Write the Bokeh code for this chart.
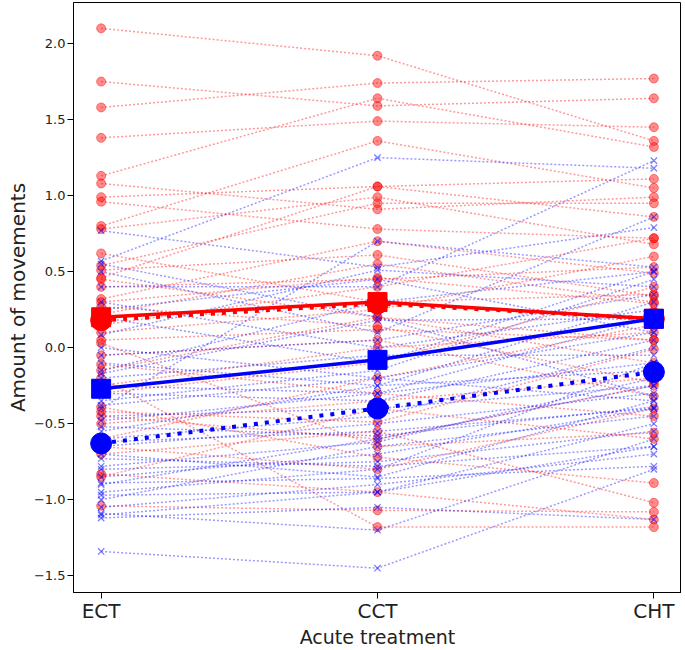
from bokeh.plotting import figure
from bokeh.models import Range1d, FixedTicker
from bokeh.embed import file_html
from bokeh.resources import INLINE

categories = ["ECT", "CCT", "CHT"]
y_ticks = [-1.5, -1.0, -0.5, 0.0, 0.5, 1.0, 1.5, 2.0]

# individual subjects, red group (values at ECT, CCT, CHT)
red_ect = [2.10, 1.75, 1.58, 1.38, 1.13, 1.08, 0.99, 0.96, 0.80, 0.78, 0.54, 0.51,
           0.46, 0.40, 0.32, 0.27, 0.30, 0.05, 0.03, -0.05, -0.11, -0.39, -0.42, -0.83,
           -1.04, -0.20, 0.62, -0.60, 0.15, -0.30, -0.70, 0.10, -0.15, -0.50,
           0.22, -0.25, -0.45, -0.85, 0.45, -0.65]
red_cct = [1.92, 1.59, 1.74, 1.49, 1.64, 0.91, 1.06, 0.78, 1.36, 0.99, 0.95, 0.61,
           1.06, 0.45, 0.70, 0.14, 0.46, 0.12, -0.65, 0.05, -0.30, -0.72, -0.49, -0.95,
           -1.07, -1.18, 0.30, -0.20, 0.40, -0.10, -0.55, 0.25, 0.20, -0.35,
           0.55, 0.00, -0.60, -0.40, 0.20, -0.80]
red_cht = [1.36, 1.64, 1.77, 1.45, 1.32, 0.99, 1.11, 0.72, 1.05, 0.68, 0.95, 0.34,
           0.86, 0.53, 0.49, -0.23, 0.29, 0.05, -0.56, -0.32, -0.45, -0.89, -0.01, -1.13,
           -1.08, -1.18, 0.35, 0.15, 0.72, 0.40, -1.02, 0.60, -0.10, -0.20,
           0.30, 0.10, -0.25, -0.60, 0.05, -0.40]

# individual subjects, blue group
blue_ect = [0.77, 0.57, 0.40, 0.085, -0.17, -0.52, -0.73, -0.89, -0.97, -1.09, -1.12,
            -1.34, 0.50, 0.20, 0.00, -0.10, -0.25, -0.35, -0.45, -0.60, -0.65, -0.78,
            -0.85, -0.95, -1.00, -1.05, 0.30, -0.30, -0.55, -0.70, -0.40, 0.55,
            0.25, -0.05, -0.20, -0.48, -0.62, -0.80, -0.90, -1.10, -0.15, -0.38]
blue_cct = [0.53, 1.25, 0.40, 0.51, 0.18, -0.58, -0.78, -0.86, -0.95, -1.20, -1.05,
            -1.45, 0.10, -0.10, -0.20, -0.25, -0.30, -0.15, -0.40, -0.45, -0.50, -0.62,
            -0.70, -0.80, -0.65, -0.90, 0.00, -0.35, -0.25, -0.85, 0.70, 0.20,
            0.45, 0.05, -0.05, -0.30, -0.55, -0.75, -0.60, -0.95, 0.30, -0.20]
blue_cht = [0.79, 1.18, 1.23, 0.40, 0.19, -0.39, -0.65, -0.78, -0.50, -0.60, -1.13,
            -0.80, 0.86, 0.50, 0.10, 0.30, -0.10, 0.45, -0.25, 0.00, -0.30, -0.20,
            -0.40, -0.10, -0.45, -0.70, 0.25, 0.05, -0.15, -0.35, 0.53, -0.32,
            0.10, 0.35, -0.05, 0.20, -0.40, -0.55, -0.25, -0.65, 0.50, -0.35]

# group means
red_mean_solid = [0.20, 0.30, 0.19]
red_mean_dotted = [0.18, 0.29, 0.19]
blue_mean_solid = [-0.27, -0.08, 0.19]
blue_mean_dotted = [-0.63, -0.40, -0.16]

xpos = list(range(len(categories)))

p = figure(frame_width=608, frame_height=590, output_backend="svg", toolbar_location=None,
           x_range=Range1d(-0.1, 2.1), y_range=Range1d(-1.61, 2.27),
           min_border_left=73, min_border_right=0, min_border_top=2, min_border_bottom=0)
p.grid.visible = False
p.outline_line_color = "black"
p.outline_line_width = 1
p.background_fill_color = "white"
p.border_fill_color = "white"

font = "DejaVu Sans"

p.xaxis.ticker = FixedTicker(ticks=xpos)
p.xaxis.major_label_overrides = {i: c for i, c in enumerate(categories)}
p.yaxis.ticker = FixedTicker(ticks=y_ticks)
p.yaxis.major_label_overrides = {t: (("\u2212" if t < 0 else "") + "%.1f" % abs(t)) for t in y_ticks}

for ax in (p.xaxis[0], p.yaxis[0]):
    ax.minor_tick_line_color = None
    ax.major_tick_in = 0
    ax.major_tick_out = 6
    ax.axis_line_color = "black"
    ax.major_tick_line_color = "black"
    ax.major_label_text_font = font
    ax.axis_label_text_font = font
    ax.axis_label_text_font_style = "normal"
    ax.major_label_text_color = "#222222"
    ax.axis_label_text_color = "#222222"

p.xaxis.major_label_text_font_size = "20px"
p.yaxis.major_label_text_font_size = "13px"
p.xaxis.axis_label = "Acute treatment"
p.yaxis.axis_label = "Amount of movements"
p.xaxis.axis_label_text_font_size = "19px"
p.yaxis.axis_label_text_font_size = "20px"
p.xaxis.major_label_standoff = 0
p.xaxis.axis_label_standoff = 0
p.yaxis.major_label_standoff = 2
p.yaxis.axis_label_standoff = 1

# individual lines
def draw_group(e, c, h, color, marker, size):
    xs = [xpos for _ in e]
    ys = [[a, b, d] for a, b, d in zip(e, c, h)]
    p.multi_line(xs, ys, line_color=color, line_alpha=0.4, line_width=1.5, line_dash="2 2")
    px = [x for _ in e for x in xpos]
    py = [v for row in ys for v in row]
    if marker == "circle":
        p.scatter(px, py, marker="circle", size=size, fill_color=color, fill_alpha=0.45,
                  line_color=color, line_alpha=0.45)
    else:
        p.scatter(px, py, marker="x", size=size, line_color=color, line_alpha=0.5, line_width=1.3)

draw_group(red_ect, red_cct, red_cht, "red", "circle", 9)
draw_group(blue_ect, blue_cct, blue_cht, "blue", "x", 9)

# means
p.line(xpos, red_mean_dotted, line_color="red", line_width=4, line_dash="4 7")
p.scatter(xpos, red_mean_dotted, marker="circle", size=21, color="red")
p.line(xpos, red_mean_solid, line_color="red", line_width=3.5)
p.scatter(xpos, red_mean_solid, marker="square", size=19, color="red")
p.line(xpos, blue_mean_dotted, line_color="blue", line_width=4, line_dash="4 7")
p.scatter(xpos, blue_mean_dotted, marker="circle", size=21, color="blue")
p.line(xpos, blue_mean_solid, line_color="blue", line_width=3.5)
p.scatter(xpos, blue_mean_solid, marker="square", size=19, color="blue")

open("out.html", "w").write(file_html(p, INLINE))
